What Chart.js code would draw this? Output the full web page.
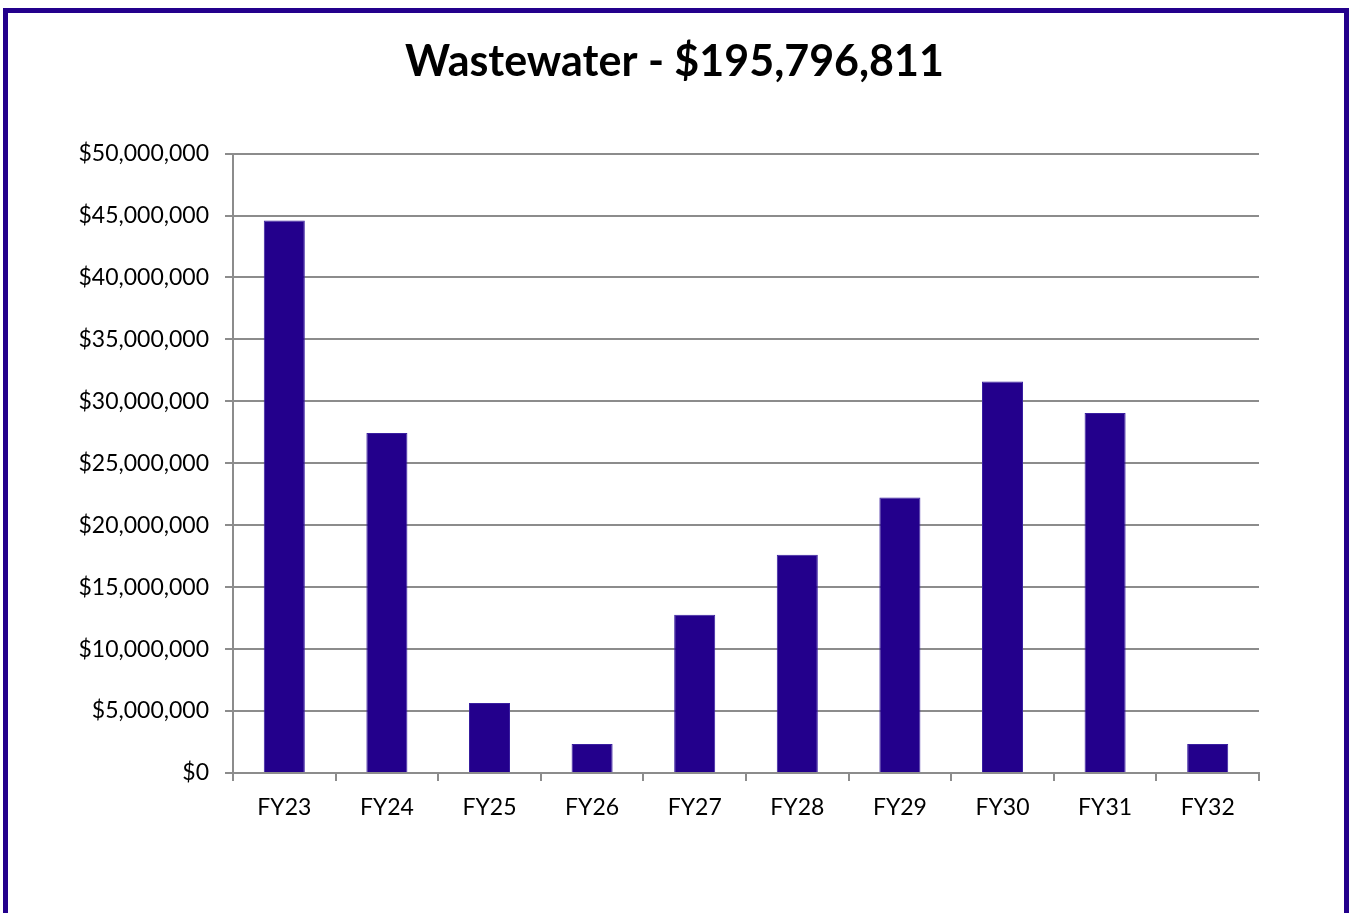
<!DOCTYPE html>
<html>
<head>
<meta charset="utf-8">
<script src="https://cdn.jsdelivr.net/npm/chart.js@4"></script>
<style>
  html, body { margin: 0; padding: 0; background: #fff; overflow: hidden; }
  #frame {
    position: absolute; left: 3px; top: 8px; width: 1336px; height: 930px;
    border: 5px solid #23008c; box-sizing: content-box;
  }
  #wrap { position: absolute; left: 0; top: 0; width: 1349px; height: 913px; }
</style>
</head>
<body>
<div id="frame"></div>
<div id="wrap"><canvas id="wwChart" width="1349" height="913"></canvas></div>
<script>
// Wastewater capital spending by fiscal year
const years = ['FY23', 'FY24', 'FY25', 'FY26', 'FY27', 'FY28', 'FY29', 'FY30', 'FY31', 'FY32'];
const spending = [44600000, 27450000, 5650000, 2350000, 12780000, 17620000, 22230000, 31600000, 29070000, 2350000];
const yTicks = [0, 5000000, 10000000, 15000000, 20000000, 25000000, 30000000, 35000000, 40000000, 45000000, 50000000];

document.addEventListener('DOMContentLoaded', function () {
    const ctx = document.getElementById('wwChart').getContext('2d');
    const axisGray = '#8c8c8c';
    const labelFont = { family: 'Lato', size: 23 };

    new Chart(ctx, {
        type: 'bar',
        data: {
            labels: years,
            datasets: [{
                data: spending,
                backgroundColor: '#23008c',
                borderColor: '#3a1fa0',
                borderWidth: 1,
                barPercentage: 0.4,
                categoryPercentage: 1.0
            }]
        },
        options: {
            responsive: false,
            animation: false,
            layout: { padding: 0 },
            plugins: {
                legend: { display: false },
                tooltip: { enabled: false },
                title: {
                    display: true,
                    text: 'Wastewater - $195,796,811',
                    color: '#000',
                    font: { family: 'Lato', size: 43, weight: 'bold' },
                    padding: { top: 36, bottom: 66 }
                }
            },
            scales: {
                x: {
                    afterFit: function (scale) { scale.height = 140; },
                    grid: {
                        display: true,
                        drawOnChartArea: false,
                        offset: true,
                        color: axisGray,
                        lineWidth: 2,
                        tickLength: 8
                    },
                    border: { color: axisGray, width: 2 },
                    ticks: { color: '#000', font: labelFont, padding: 13 }
                },
                y: {
                    min: 0,
                    max: 50000000,
                    afterFit: function (scale) { scale.width = 233; },
                    afterBuildTicks: function (scale) {
                        scale.ticks = yTicks.map(v => ({ value: v }));
                    },
                    grid: {
                        color: axisGray,
                        lineWidth: 2,
                        tickLength: 8
                    },
                    border: { color: axisGray, width: 2 },
                    ticks: {
                        color: '#000',
                        font: labelFont,
                        padding: 16,
                        callback: v => '$' + Number(v).toLocaleString('en-US')
                    }
                },
                // empty right-hand gutter so the title centres on the whole frame
                gutter: {
                    position: 'right',
                    display: true,
                    afterFit: function (scale) { scale.width = 90; },
                    grid: { display: false },
                    border: { display: false },
                    ticks: { display: false }
                }
            }
        }
    });
});
</script>
</body>
</html>
